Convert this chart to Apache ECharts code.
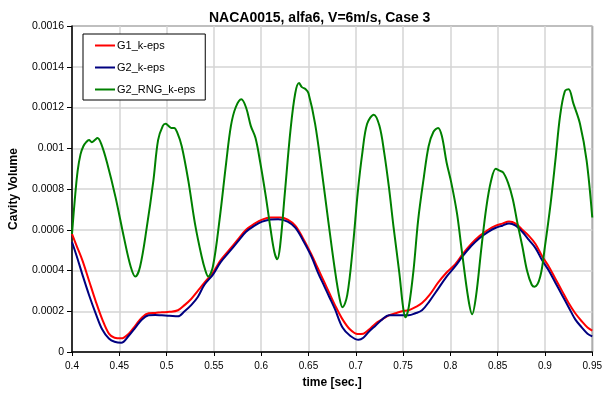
<!DOCTYPE html>
<html>
<head>
<meta charset="utf-8">
<script src="https://cdn.jsdelivr.net/npm/echarts@6/dist/echarts.min.js"></script>
<style>
  html, body { margin: 0; padding: 0; background: #fff; }
  #chart { width: 605px; height: 396px; }
</style>
</head>
<body>
<div id="chart"></div>
<script>
// Cavity volume over time, NACA0015 at 6 degrees, three turbulence setups
const chartTitle = 'NACA0015, alfa6, V=6m/s, Case 3';
const seriesNames = ['G1_k-eps', 'G2_k-eps', 'G2_RNG_k-eps'];
const xTickValues = [0.4, 0.45, 0.5, 0.55, 0.6, 0.65, 0.7, 0.75, 0.8, 0.85, 0.9, 0.95];
const yTickValues = [0, 0.0002, 0.0004, 0.0006, 0.0008, 0.001, 0.0012, 0.0014, 0.0016];

// G1_k-eps
const g1Time = [0.400, 0.405, 0.411, 0.418, 0.425, 0.432, 0.439, 0.445, 0.452, 0.460, 0.467, 0.474, 0.481, 0.488,
  0.495, 0.503, 0.512, 0.519, 0.526, 0.533, 0.540, 0.549, 0.557, 0.566, 0.575, 0.584, 0.593, 0.601, 0.610, 0.620,
  0.628, 0.636, 0.644, 0.653, 0.660, 0.667, 0.672, 0.678, 0.686, 0.694, 0.702, 0.708, 0.714, 0.721, 0.728, 0.735,
  0.742, 0.749, 0.756, 0.763, 0.770, 0.778, 0.787, 0.796, 0.805, 0.813, 0.822, 0.831, 0.840, 0.848, 0.855, 0.862,
  0.869, 0.876, 0.883, 0.890, 0.897, 0.904, 0.911, 0.918, 0.925, 0.932, 0.939, 0.945, 0.950];
const g1Volume = [0.00058, 0.00052, 0.00045, 0.00035, 0.00025, 0.00016, 0.00009, 0.00007, 0.000067, 0.00009, 0.00013,
  0.00017, 0.00019, 0.000192, 0.000195, 0.000197, 0.000205, 0.00023, 0.00026, 0.00030, 0.00034, 0.00039, 0.00045,
  0.00050, 0.00055, 0.00060, 0.00063, 0.00065, 0.00066, 0.00066, 0.00065, 0.00062, 0.00056, 0.00048, 0.00041,
  0.00034, 0.00029, 0.00023, 0.00016, 0.00011, 0.000088, 0.00009, 0.00011, 0.00014, 0.00016, 0.00018, 0.00019,
  0.0002, 0.000205, 0.00022, 0.00024, 0.00028, 0.00034, 0.00039, 0.00043, 0.00048, 0.00053, 0.00057, 0.00060,
  0.00062, 0.00063, 0.00064, 0.00063, 0.00060, 0.00057, 0.00053, 0.00047, 0.00042, 0.00036, 0.00030, 0.00024,
  0.00019, 0.00015, 0.00012, 0.000105];

// G2_k-eps
const g2Time = [0.400, 0.405, 0.411, 0.418, 0.425, 0.432, 0.439, 0.445, 0.452, 0.460, 0.467, 0.474, 0.481, 0.488,
  0.495, 0.503, 0.512, 0.519, 0.526, 0.533, 0.540, 0.549, 0.557, 0.566, 0.575, 0.584, 0.593, 0.601, 0.610, 0.618,
  0.628, 0.636, 0.644, 0.653, 0.660, 0.667, 0.672, 0.678, 0.686, 0.694, 0.703, 0.708, 0.714, 0.721, 0.728, 0.735,
  0.742, 0.749, 0.756, 0.763, 0.770, 0.778, 0.787, 0.796, 0.805, 0.813, 0.822, 0.831, 0.840, 0.848, 0.855, 0.862,
  0.869, 0.876, 0.883, 0.890, 0.897, 0.904, 0.911, 0.918, 0.925, 0.932, 0.939, 0.945, 0.950];
const g2Volume = [0.00054, 0.00047, 0.00038, 0.00028, 0.00019, 0.00011, 0.000066, 0.00005, 0.000045, 0.00008, 0.00012,
  0.00016, 0.00018, 0.000182, 0.00018, 0.000178, 0.000175, 0.0002, 0.00023, 0.00027, 0.00033, 0.00038, 0.00044,
  0.00049, 0.00054, 0.00059, 0.00062, 0.00064, 0.00065, 0.000652, 0.00064, 0.00061, 0.00055, 0.00047, 0.00039,
  0.00032, 0.00027, 0.00021, 0.00012, 0.00008, 0.00006, 0.00007, 0.0001, 0.00013, 0.00016, 0.00018, 0.00018,
  0.00018, 0.00018, 0.00019, 0.000205, 0.00025, 0.00031, 0.00037, 0.00042, 0.00047, 0.00052, 0.00056, 0.00059,
  0.00061, 0.00062, 0.000631, 0.00062, 0.00059, 0.00055, 0.00051, 0.00045, 0.0004, 0.00034, 0.00028, 0.00022,
  0.00016, 0.00012, 0.00009, 0.000077];

// G2_RNG_k-eps
const rngTime = [0.400, 0.403, 0.406, 0.409, 0.412, 0.415, 0.418, 0.421, 0.424, 0.427, 0.431, 0.437, 0.446, 0.455,
  0.462, 0.467, 0.472, 0.479, 0.486, 0.491, 0.496, 0.499, 0.502, 0.505, 0.508, 0.511, 0.516, 0.523, 0.530, 0.537,
  0.541, 0.544, 0.549, 0.556, 0.563, 0.568, 0.573, 0.579, 0.584, 0.589, 0.594, 0.599, 0.605, 0.610, 0.614, 0.617,
  0.620, 0.625, 0.631, 0.636, 0.640, 0.643, 0.647, 0.650, 0.657, 0.664, 0.671, 0.678, 0.683, 0.686, 0.691, 0.697,
  0.702, 0.707, 0.712, 0.719, 0.725, 0.730, 0.735, 0.740, 0.746, 0.750, 0.7525, 0.756, 0.761, 0.766, 0.772, 0.777,
  0.782, 0.787, 0.791, 0.796, 0.801, 0.807, 0.812, 0.819, 0.823, 0.827, 0.833, 0.838, 0.843, 0.848, 0.852, 0.856,
  0.861, 0.866, 0.871, 0.876, 0.881, 0.886, 0.889, 0.895, 0.900, 0.906, 0.911, 0.916, 0.921, 0.925, 0.930, 0.937,
  0.944, 0.950];
const rngVolume = [0.00058, 0.00075, 0.00089, 0.00097, 0.00101, 0.00103, 0.00104, 0.00103, 0.00104, 0.00105, 0.00102,
  0.00093, 0.00076, 0.00056, 0.00042, 0.00037, 0.00042, 0.00061, 0.00084, 0.00104, 0.00111, 0.00112, 0.00111,
  0.00110, 0.00110, 0.00108, 0.00101, 0.00084, 0.00063, 0.00047, 0.00040, 0.00037, 0.00042, 0.00065, 0.00093,
  0.00111, 0.00120, 0.00124, 0.00120, 0.00111, 0.00105, 0.00093, 0.00076, 0.00060, 0.00049, 0.000455, 0.00052,
  0.00078, 0.00109, 0.00127, 0.00132, 0.00130, 0.00129, 0.00127, 0.00112, 0.00089, 0.00064, 0.00040, 0.00026,
  0.00022, 0.00028, 0.00052, 0.00078, 0.00098, 0.00112, 0.001165, 0.00111, 0.00098, 0.00081, 0.00061, 0.00039,
  0.00022, 0.00017, 0.00022, 0.00040, 0.00065, 0.00086, 0.00101, 0.00108, 0.00110, 0.00106, 0.00093, 0.00083,
  0.00068, 0.00050, 0.00026, 0.000185, 0.00027, 0.00052, 0.00071, 0.00084, 0.00090, 0.00089, 0.00088, 0.00083,
  0.00075, 0.00063, 0.00052, 0.00040, 0.00033, 0.00032, 0.00037, 0.00052, 0.00073, 0.00094, 0.00116, 0.00128,
  0.00129, 0.00122, 0.00112, 0.00094, 0.00066];

const seriesColors = ['#ff0000', '#000080', '#008000'];
const FONT = '"Liberation Sans", Arial, sans-serif';

function pairs(xs, ys) {
  return xs.map((x, i) => [x, ys[i]]);
}

const chart = echarts.init(document.getElementById('chart'), null, { renderer: 'canvas' });

const lineSeries = [
  [g1Time, g1Volume],
  [g2Time, g2Volume],
  [rngTime, rngVolume]
].map(([t, v], i) => ({
  name: seriesNames[i],
  type: 'line',
  data: pairs(t, v),
  smooth: 0.35,
  symbol: 'none',
  showSymbol: false,
  lineStyle: { color: seriesColors[i], width: 2 },
  itemStyle: { color: seriesColors[i] },
  z: 3 + i,
  animation: false
}));

chart.setOption({
  animation: false,
  backgroundColor: '#ffffff',
  title: {
    text: chartTitle,
    left: 204,
    top: 6,
    textStyle: { fontFamily: FONT, fontSize: 14, fontWeight: 'bold', color: '#000' }
  },
  legend: {
    data: seriesNames,
    orient: 'vertical',
    left: 83,
    top: 34,
    padding: [6, 10, 5, 12],
    itemWidth: 20,
    itemHeight: 2,
    itemGap: 11,
    icon: 'rect',
    backgroundColor: '#ffffff',
    borderColor: '#000000',
    borderWidth: 1,
    textStyle: { fontFamily: FONT, fontSize: 11, color: '#000', padding: [0, 0, 0, -3] }
  },
  grid: {
    left: 69,
    top: 26,
    right: 8,
    bottom: 44,
    show: true,
    borderColor: '#000',
    borderWidth: 1,
    containLabel: false
  },
  xAxis: {
    type: 'value',
    min: xTickValues[0],
    max: xTickValues[xTickValues.length - 1],
    interval: 0.05,
    name: 'time [sec.]',
    nameLocation: 'middle',
    nameGap: 25,
    nameTextStyle: { fontFamily: FONT, fontSize: 12, fontWeight: 'bold', color: '#000' },
    axisLine: { show: true, onZero: false, lineStyle: { color: '#000', width: 1.5 } },
    axisTick: { show: true, inside: false, length: 4, lineStyle: { color: '#000' } },
    axisLabel: {
      fontFamily: FONT, fontSize: 10, color: '#000', margin: 9,
      formatter: v => String(+v.toFixed(2))
    },
    splitLine: { show: true, lineStyle: { color: '#d4d4d4', width: 1.5 } }
  },
  yAxis: {
    type: 'value',
    min: yTickValues[0],
    max: yTickValues[yTickValues.length - 1],
    interval: 0.0002,
    name: 'Cavity Volume',
    nameLocation: 'middle',
    nameGap: 52,
    nameTextStyle: { fontFamily: FONT, fontSize: 12, fontWeight: 'bold', color: '#000' },
    axisLine: { show: true, lineStyle: { color: '#000', width: 1.5 } },
    axisTick: { show: true, inside: false, length: 5, lineStyle: { color: '#000' } },
    axisLabel: {
      fontFamily: FONT, fontSize: 10.5, color: '#000', margin: 8,
      formatter: v => String(+v.toFixed(4))
    },
    splitLine: { show: true, lineStyle: { color: '#d4d4d4', width: 1.5 } }
  },
  series: lineSeries
});
</script>
</body>
</html>
